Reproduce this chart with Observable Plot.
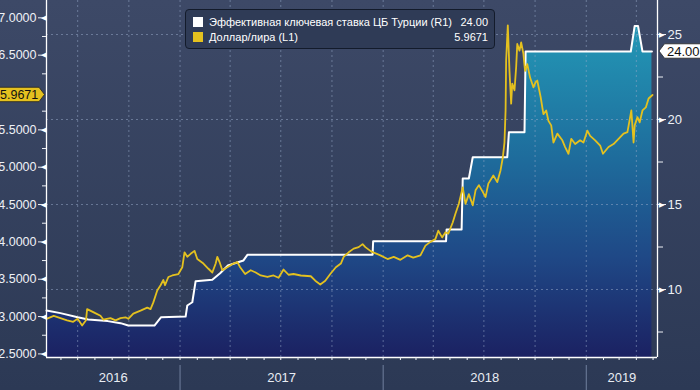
<!DOCTYPE html>
<html><head><meta charset="utf-8">
<script src="https://cdn.jsdelivr.net/npm/d3@7"></script>
<script src="https://cdn.jsdelivr.net/npm/@observablehq/plot@0.6"></script>
<style>
html,body{margin:0;padding:0;}
body{width:700px;height:390px;overflow:hidden;background:linear-gradient(#3d4967,#2c3955);font-family:"Liberation Sans",Arial,sans-serif;}
#wrap{position:relative;width:700px;height:390px;}
#legend{position:absolute;left:185px;top:9px;width:308px;height:38px;background:#2f3b56;border:1px solid #131b2b;border-radius:4px;color:#fff;font-size:11px;}
.row{position:absolute;left:7px;right:6px;height:14px;line-height:14px;}
.sw{position:absolute;left:0;top:2px;width:10px;height:10px;}
.lbl{position:absolute;left:16px;white-space:nowrap;}
.val{position:absolute;right:0;}
</style></head>
<body><div id="wrap"><div id="chart"></div><div id="legend"></div></div>
<script>
// ---- data ----
const rateDates = ["2016-05-06","2016-05-31","2016-07-01","2016-07-20","2016-08-24","2016-09-16","2016-09-30","2016-11-16","2016-11-28","2017-01-11","2017-01-14","2017-01-23","2017-01-29","2017-02-28","2017-03-14","2017-03-28","2017-04-25","2017-05-02","2017-12-13","2017-12-14","2018-04-24","2018-04-25","2018-05-22","2018-05-24","2018-06-04","2018-06-11","2018-08-12","2018-08-15","2018-09-12","2018-09-14","2019-03-22","2019-03-29","2019-04-04","2019-04-12","2019-04-29"];
const rateValues = [8.76,8.61,8.37,8.24,8.14,8.02,7.88,7.88,8.37,8.41,9.06,9.25,10.49,10.57,10.96,11.41,11.71,12.04,12.04,12.84,12.84,13.53,13.53,16.53,16.53,17.78,17.78,19.25,19.25,24.00,24.00,25.50,25.50,24.00,24.00];

const usdDates = ["2016-05-06","2016-05-19","2016-05-31","2016-06-12","2016-06-23","2016-07-01","2016-07-09","2016-07-16","2016-07-18","2016-07-29","2016-08-11","2016-08-16","2016-08-29","2016-09-07","2016-09-16","2016-09-25","2016-09-30","2016-10-09","2016-10-22","2016-11-03","2016-11-09","2016-11-14","2016-11-21","2016-11-27","2016-12-02","2016-12-05","2016-12-11","2016-12-18","2016-12-29","2017-01-05","2017-01-09","2017-01-14","2017-01-20","2017-01-27","2017-02-01","2017-02-12","2017-02-21","2017-02-28","2017-03-06","2017-03-09","2017-03-13","2017-03-18","2017-03-27","2017-04-07","2017-04-14","2017-04-19","2017-04-28","2017-05-08","2017-05-17","2017-05-26","2017-06-07","2017-06-18","2017-06-27","2017-07-06","2017-07-15","2017-07-24","2017-08-06","2017-08-24","2017-09-01","2017-09-10","2017-09-19","2017-09-28","2017-10-08","2017-10-17","2017-10-22","2017-10-31","2017-11-09","2017-11-18","2017-11-25","2017-11-30","2017-12-09","2017-12-14","2017-12-27","2018-01-09","2018-01-20","2018-02-01","2018-02-14","2018-02-24","2018-03-09","2018-03-18","2018-03-27","2018-04-05","2018-04-10","2018-04-17","2018-04-23","2018-04-28","2018-05-06","2018-05-11","2018-05-17","2018-05-24","2018-05-29","2018-06-04","2018-06-11","2018-06-16","2018-06-22","2018-06-29","2018-07-04","2018-07-09","2018-07-18","2018-07-25","2018-07-31","2018-08-04","2018-08-07","2018-08-09","2018-08-10","2018-08-13","2018-08-16","2018-08-19","2018-08-21","2018-08-25","2018-08-28","2018-08-30","2018-09-03","2018-09-06","2018-09-10","2018-09-13","2018-09-17","2018-09-22","2018-09-28","2018-10-02","2018-10-05","2018-10-11","2018-10-16","2018-10-21","2018-10-25","2018-10-30","2018-11-03","2018-11-10","2018-11-19","2018-11-24","2018-11-30","2018-12-05","2018-12-12","2018-12-21","2018-12-27","2019-01-03","2019-01-08","2019-01-17","2019-01-26","2019-01-31","2019-02-10","2019-02-19","2019-02-28","2019-03-09","2019-03-16","2019-03-23","2019-03-27","2019-03-29","2019-04-03","2019-04-07","2019-04-12","2019-04-18","2019-04-23","2019-04-30"];
const usdValues = [2.97,3.01,2.98,2.95,2.93,2.97,2.88,2.95,3.10,3.06,3.01,2.96,2.98,2.95,2.98,2.99,2.97,3.04,3.08,3.12,3.10,3.19,3.35,3.42,3.49,3.42,3.53,3.55,3.57,3.66,3.86,3.80,3.84,3.88,3.77,3.71,3.64,3.59,3.71,3.80,3.73,3.62,3.66,3.71,3.73,3.66,3.57,3.62,3.59,3.55,3.53,3.55,3.52,3.63,3.56,3.57,3.55,3.54,3.48,3.43,3.48,3.57,3.66,3.71,3.80,3.86,3.91,3.93,3.97,3.93,3.88,3.86,3.82,3.77,3.80,3.76,3.82,3.79,3.82,3.95,4.00,4.04,4.15,4.06,4.13,4.11,4.26,4.38,4.51,4.73,4.51,4.64,4.49,4.69,4.76,4.67,4.60,4.78,4.89,4.80,4.96,5.13,5.33,5.76,6.43,6.90,6.29,5.85,6.12,6.03,6.34,6.65,6.56,6.67,6.52,6.29,6.38,6.20,6.07,6.14,6.16,5.94,5.71,5.76,5.62,5.56,5.33,5.45,5.36,5.27,5.18,5.38,5.31,5.36,5.33,5.49,5.42,5.36,5.29,5.18,5.27,5.31,5.38,5.45,5.47,5.76,5.33,5.56,5.67,5.60,5.76,5.80,5.92,5.9671];

const seriesNames = ["Эффективная ключевая ставка ЦБ Турции (R1)", "Доллар/лира (L1)"];
const seriesColors = ["#ffffff", "#e4c11f"];
const lastLabels = ["24.00", "5.9671"];
const lastValues = [24.00, 5.9671];

const leftTicks = [2.5, 3, 3.5, 4, 4.5, 5, 5.5, 6.5, 7];
const leftMinor = [2.75, 3.25, 3.75, 4.25, 4.75, 5.25, 5.75, 6.25, 6.75];
const rightTicks = [10, 15, 20, 25];
const rightMinor = [7.5, 12.5, 17.5, 22.5];
const years = [2016, 2017, 2018, 2019];

const leftDomain = [2.452, 7.232];
const rightDomain = [6, 27];
const xDomain = [new Date("2016-05-06"), new Date("2019-05-09")];

// ---- build ----
const toLeft = d3.scaleLinear(rightDomain, leftDomain);
const rate = rateDates.map((d, i) => ({date: new Date(d), v: rateValues[i]}));
const usd = usdDates.map((d, i) => ({date: new Date(d), v: usdValues[i]}));
const yearStarts = years.slice(1).map(y => new Date(Date.UTC(y, 0, 1)));
const yearMid = y => {
  const a = Math.max(Date.UTC(y, 0, 1), +xDomain[0]);
  const b = Math.min(Date.UTC(y + 1, 0, 1), +xDomain[1]);
  return new Date((a + b) / 2);
};
const fmtInt = v => String(Math.round(toLeft.invert(v)));

const plot = Plot.plot({
  width: 700, height: 390,
  marginLeft: 46, marginRight: 43, marginTop: 0, marginBottom: 33,
  x: {type: "utc", domain: xDomain},
  y: {domain: leftDomain},
  style: {background: "transparent", color: "#eef1f6", fontFamily: "Liberation Sans, Arial, sans-serif", fontSize: "12.5px", overflow: "visible"},
  marks: [
    Plot.areaY(rate, {x: "date", y1: leftDomain[0], y2: d => toLeft(d.v), fill: "url(#fillGrad)"}),
    Plot.gridY(rightTicks.map(toLeft), {stroke: "#9aaccb", strokeOpacity: 0.5, strokeDasharray: "2,3"}),
    Plot.gridX({ticks: d3.utcMonth.every(3), stroke: "#9aaccb", strokeOpacity: 0.5, strokeDasharray: "2,3"}),
    Plot.lineY(rate, {x: "date", y: d => toLeft(d.v), stroke: seriesColors[0], strokeWidth: 2}),
    Plot.lineY(usd, {x: "date", y: "v", stroke: seriesColors[1], strokeWidth: 1.8}),
    Plot.ruleX([xDomain[0]], {stroke: "white", strokeWidth: 1.3}),
    Plot.ruleX([xDomain[1]], {stroke: "white", strokeWidth: 1.3}),
    Plot.ruleY([leftDomain[0]], {stroke: "white", strokeWidth: 1.5}),
    Plot.axisY(leftTicks, {anchor: "left", tickSize: 8, tickPadding: 2, tickFormat: d3.format(".4f"), fontSize: 12.5, label: null}),
    Plot.axisY(leftMinor, {anchor: "left", tickSize: 4, tickFormat: () => "", label: null}),
    Plot.text(leftTicks, {y: d => d, frameAnchor: "left", text: () => "◀", dx: -6, fontSize: 7, fill: "white"}),
    Plot.axisY(rightTicks.map(toLeft), {anchor: "right", tickSize: 8, tickPadding: 2, tickFormat: fmtInt, fontSize: 13, label: null}),
    Plot.axisY(rightMinor.map(toLeft), {anchor: "right", tickSize: 5, tickFormat: () => "", label: null}),
    Plot.text(rightTicks, {y: d => toLeft(d), frameAnchor: "right", text: () => "▶", dx: 6, fontSize: 7, fill: "white"}),
    Plot.axisX({ticks: d3.utcMonth.every(1), tickSize: 3, tickFormat: () => "", label: null}),
    Plot.axisX(yearStarts, {tickSize: 25, dy: 8, tickFormat: () => "", stroke: "#71809e", label: null}),
    Plot.text(years, {x: d => yearMid(d), text: d => String(d), frameAnchor: "bottom", dy: 24, fontSize: 13, fill: "#e8ecf3"})
  ]
});

// gradient for the area
const svg = d3.select(plot);
svg.insert("defs", ":first-child").html(
  '<linearGradient id="fillGrad" x1="0" y1="0" x2="0" y2="1">' +
  '<stop offset="0" stop-color="#2398b6"/>' +
  '<stop offset="0.4" stop-color="#1e6c9c"/>' +
  '<stop offset="0.7" stop-color="#1f4886"/>' +
  '<stop offset="1" stop-color="#1b2162"/></linearGradient>');

// last value tags, positioned with the plot's own y scale
const ys = plot.scale("y");
const fy = ys.apply ? ys.apply : d3.scaleLinear(ys.domain, ys.range);
const g = svg.append("g").attr("font-family", "Liberation Sans, Arial, sans-serif").attr("text-anchor", "start");
{
  const c = fy(lastValues[1]);
  g.append("path").attr("d", `M-2,${c-7.2}H39L44.5,${c}L39,${c+7.2}H-2Z`).attr("fill", "#e4c11f").attr("stroke", "#222").attr("stroke-width", 0.8);
  g.append("text").attr("x", 0).attr("y", c).attr("dy", "0.35em").attr("text-anchor", "start").attr("font-size", 12.5).attr("fill", "#111").text(lastLabels[1]);
}
{
  const c = fy(toLeft(lastValues[0]));
  g.append("path").attr("d", `M659,${c}L664.5,${c-7.2}H702V${c+7.2}H664.5Z`).attr("fill", "#ffffff").attr("stroke", "#222").attr("stroke-width", 0.8);
  g.append("text").attr("x", 667).attr("y", c).attr("dy", "0.35em").attr("text-anchor", "start").attr("font-size", 13).attr("fill", "#111").text(lastLabels[0]);
}
document.getElementById("chart").appendChild(plot);

// legend
const lg = document.getElementById("legend");
seriesNames.forEach((n, i) => {
  const r = document.createElement("div");
  r.className = "row";
  r.style.top = (5 + i * 14.6) + "px";
  r.innerHTML = `<span class="sw" style="background:${seriesColors[i]}"></span><span class="lbl">${n}</span><span class="val">${lastLabels[i]}</span>`;
  lg.appendChild(r);
});
</script>
</body></html>
